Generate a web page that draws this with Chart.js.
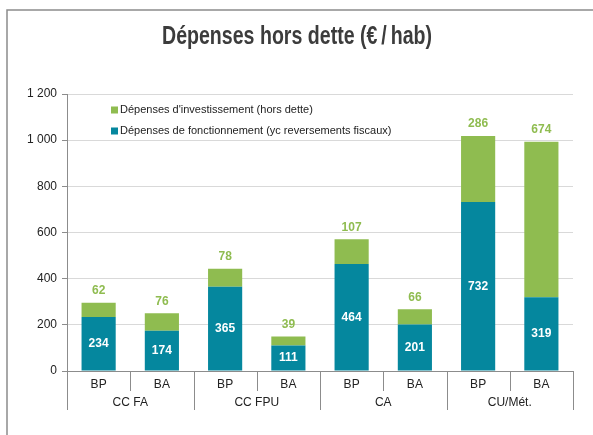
<!DOCTYPE html>
<html>
<head>
<meta charset="utf-8">
<script src="https://cdn.jsdelivr.net/npm/chart.js@4.4.0/dist/chart.umd.min.js"></script>
<style>
  html, body { margin: 0; padding: 0; background: #fff; }
  #wrap { width: 593px; height: 435px; }
</style>
</head>
<body>
<div id="wrap"><canvas id="graph" width="593" height="435"></canvas></div>
<script>
// Data
const categories = ['BP', 'BA', 'BP', 'BA', 'BP', 'BA', 'BP', 'BA'];
const groups = ['CC FA', 'CC FPU', 'CA', 'CU/Mét.'];
const fonctionnement = [234, 174, 365, 111, 464, 201, 732, 319];
const investissement = [62, 76, 78, 39, 107, 66, 286, 674];
const yTicks = [0, 200, 400, 600, 800, 1000, 1200];
const titleText = 'Dépenses hors dette (€\u2009/\u2009hab)';

const TEAL = '#05879e';
const GREEN = '#8fbc50';
const AXIS = '#8c8c8c';
const FONT = "'Liberation Sans', Arial, sans-serif";

const fmt = v => String(v).replace(/\B(?=(\d{3})+(?!\d))/g, ' ');

// Outer frame (left + top lines) and condensed title
const framePlugin = {
    id: 'frame',
    beforeDraw(chart) {
        const c = chart.ctx;
        c.save();
        c.fillStyle = '#fff';
        c.fillRect(0, 0, chart.width, chart.height);
        c.strokeStyle = AXIS;
        c.lineWidth = 1.5;
        c.beginPath();
        c.moveTo(7, chart.height);
        c.lineTo(7, 10);
        c.lineTo(chart.width, 10);
        c.stroke();

        // title: bold sans squeezed horizontally to look like a narrow face
        c.font = 'bold 26px ' + FONT;
        c.fillStyle = '#3c3c3c';
        c.textAlign = 'center';
        c.textBaseline = 'middle';
        const tw = c.measureText(titleText).width;
        const sx = 270 / tw;
        c.translate(297, 37);
        c.scale(sx, 1);
        c.fillText(titleText, 0, 0);
        c.restore();
    }
};

// Separators and group labels under the x axis
const groupAxisPlugin = {
    id: 'groupAxis',
    afterDraw(chart) {
        const c = chart.ctx;
        const x = chart.scales.x;
        const bottom = chart.chartArea.bottom;
        const w = x.getPixelForValue(1) - x.getPixelForValue(0);
        c.save();
        c.strokeStyle = AXIS;
        c.lineWidth = 1;
        for (let i = 0; i <= categories.length; i++) {
            const px = Math.round(x.getPixelForValue(0) - w / 2 + i * w) + 0.5;
            const len = i % 2 === 0 ? 39 : 20;
            c.beginPath();
            c.moveTo(px, bottom);
            c.lineTo(px, bottom + len);
            c.stroke();
        }
        c.fillStyle = '#222';
        c.font = '12px ' + FONT;
        c.textAlign = 'center';
        c.textBaseline = 'middle';
        groups.forEach((g, i) => {
            const cx = x.getPixelForValue(0) - w / 2 + (2 * i + 1) * w;
            c.fillText(g, cx, bottom + 32);
        });
        c.restore();
    }
};

// Value labels on the bars
const labelPlugin = {
    id: 'barLabels',
    afterDatasetsDraw(chart) {
        const c = chart.ctx;
        c.save();
        c.font = 'bold 12px ' + FONT;
        c.textAlign = 'center';
        c.textBaseline = 'middle';
        const m0 = chart.getDatasetMeta(0);
        const m1 = chart.getDatasetMeta(1);
        m0.data.forEach((bar, i) => {
            c.fillStyle = '#fff';
            c.fillText(fonctionnement[i], bar.x, (bar.y + bar.base) / 2);
        });
        m1.data.forEach((bar, i) => {
            c.fillStyle = GREEN;
            c.fillText(investissement[i], bar.x, bar.y - 12);
        });
        c.restore();
    }
};

// Legend inside the plot area
const legendPlugin = {
    id: 'innerLegend',
    afterDraw(chart) {
        const c = chart.ctx;
        const a = chart.chartArea;
        const items = chart.data.datasets.slice().reverse();
        c.save();
        c.font = '11px ' + FONT;
        c.textBaseline = 'middle';
        items.forEach((ds, i) => {
            const y = a.top + 16 + i * 21;
            c.fillStyle = ds.backgroundColor;
            c.fillRect(a.left + 44, y - 3.5, 7, 7);
            c.fillStyle = '#222';
            c.fillText(ds.label, a.left + 53, y);
        });
        c.restore();
    }
};

const ctx = document.getElementById('graph').getContext('2d');
const chart = new Chart(ctx, {
    type: 'bar',
    data: {
        labels: categories,
        datasets: [
            {
                label: 'Dépenses de fonctionnement (yc reversements fiscaux)',
                data: fonctionnement,
                backgroundColor: TEAL,
                barPercentage: 0.54,
                categoryPercentage: 1,
            },
            {
                label: "Dépenses d'investissement (hors dette)",
                data: investissement,
                backgroundColor: GREEN,
                barPercentage: 0.54,
                categoryPercentage: 1,
            },
        ],
    },
    options: {
        responsive: false,
        animation: false,
        layout: { padding: { left: 0, right: 20, top: 94, bottom: 0 } },
        plugins: {
            legend: { display: false },
            tooltip: { enabled: false },
            title: { display: false },
        },
        scales: {
            x: {
                stacked: true,
                grid: { display: false, drawTicks: false },
                border: { display: true, color: AXIS },
                ticks: { color: '#222', font: { family: FONT, size: 12 }, padding: 6, maxRotation: 0 },
                afterFit: s => { s.height = 64; },
            },
            y: {
                stacked: true,
                min: 0,
                max: 1200,
                afterBuildTicks: s => { s.ticks = yTicks.map(v => ({ value: v })); },
                grid: { color: '#d9d9d9', tickColor: AXIS, tickLength: 5 },
                border: { display: true, color: AXIS },
                ticks: { color: '#222', font: { family: FONT, size: 12 }, padding: 5, callback: v => fmt(v) },
                afterFit: s => { s.width = 67; },
            },
        },
    },
    plugins: [framePlugin, groupAxisPlugin, labelPlugin, legendPlugin],
});
</script>
</body>
</html>
